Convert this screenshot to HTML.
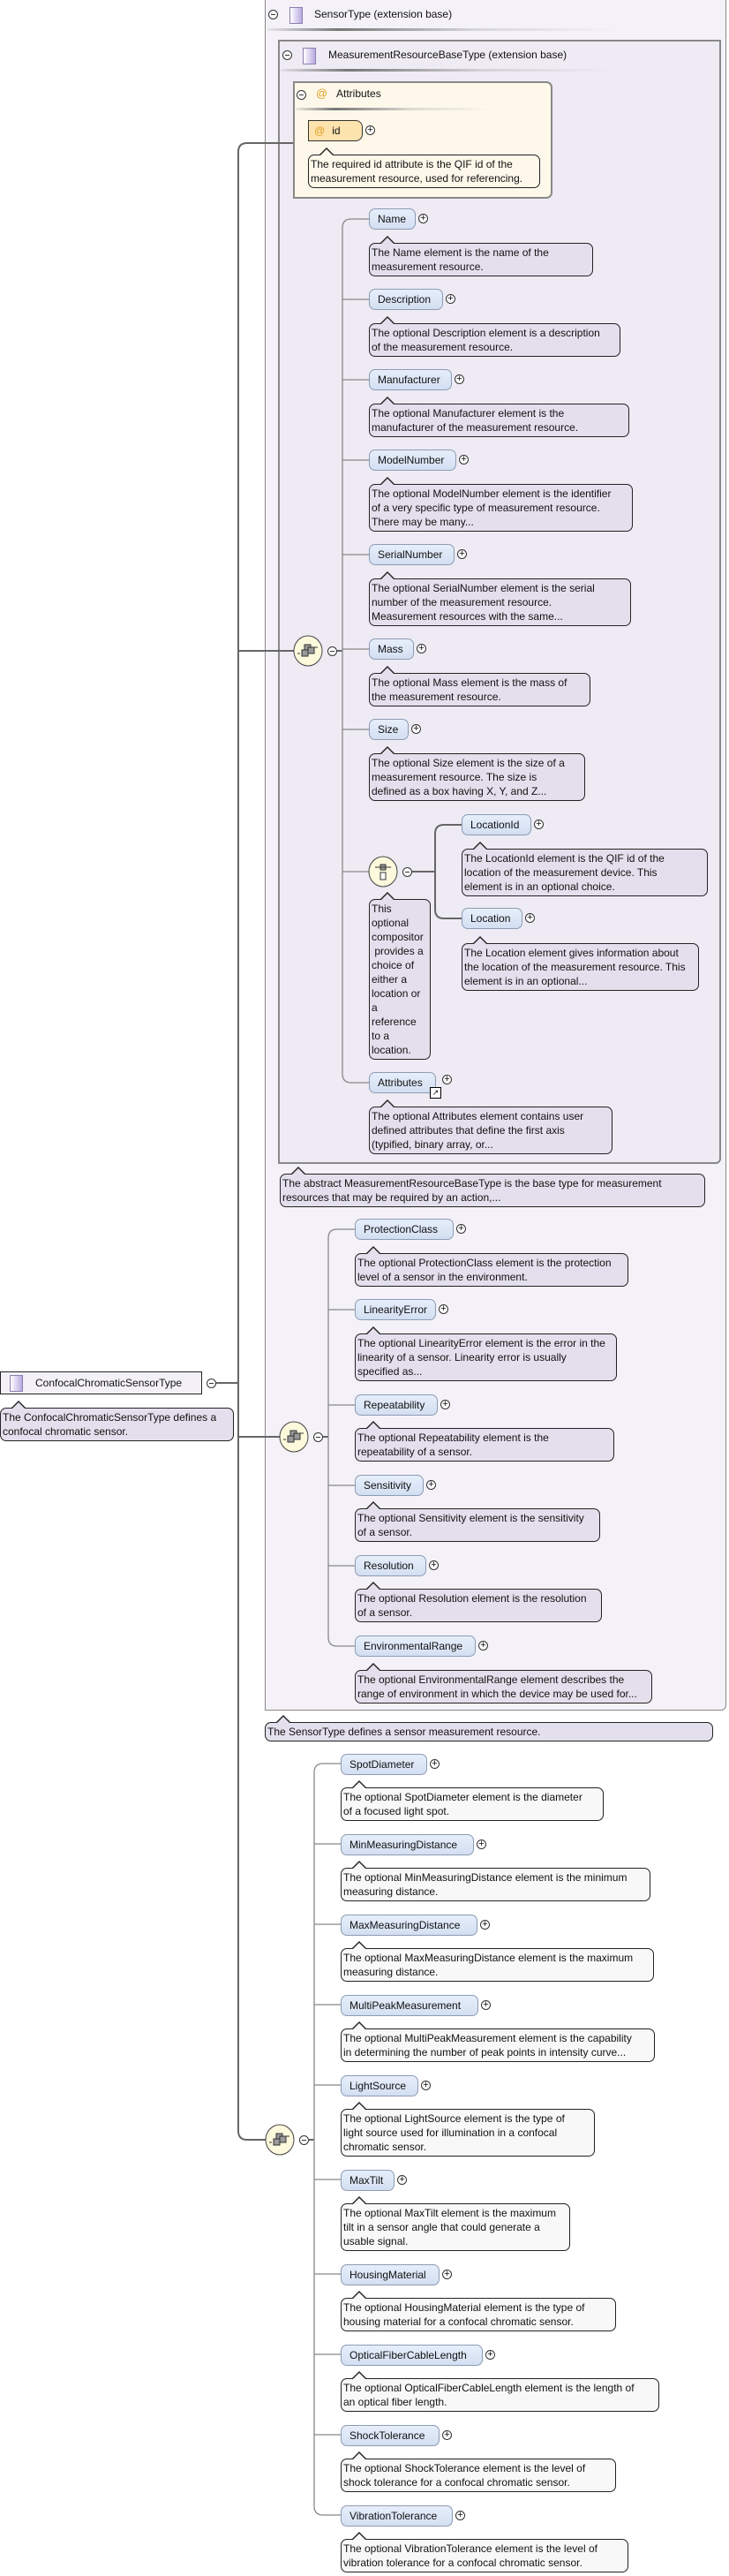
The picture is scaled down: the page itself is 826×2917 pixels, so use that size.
<!DOCTYPE html>
<html><head><meta charset="utf-8"><style>
body{margin:0;width:826px;height:2917px;position:relative;background:#fff;overflow:hidden;font-family:"Liberation Sans",Arial,sans-serif;color:#111}
.abs{position:absolute}
.e{position:absolute;box-sizing:border-box;height:24px;border:1px solid #8d9cb4;border-radius:7px;background:linear-gradient(#e6eefa,#d3dff2);font-size:12px;line-height:22px;padding-left:9px;white-space:nowrap}
.e .p,.pl{position:absolute;left:100%;margin-left:4px;top:5px;width:11px;height:11px;box-sizing:border-box;border:1px solid #333;border-radius:50%;font-size:11px;line-height:9px;text-align:center;background:#fff}
.d{position:absolute;box-sizing:border-box;border:1px solid #222;border-radius:7px;background:var(--bg);padding:2px 2px;font-size:12px;line-height:16px;white-space:nowrap;--bg:#e4dfed}
.d::before{content:"";position:absolute;left:12px;top:-9px;border-left:8px solid transparent;border-right:8px solid transparent;border-bottom:8px solid #222}
.d::after{content:"";position:absolute;left:13px;top:-7px;border-left:7px solid transparent;border-right:7px solid transparent;border-bottom:7px solid var(--bg)}
.w{--bg:#f8f8f8}
.y{--bg:#fdf8ea}
.mi{position:absolute;width:11px;height:11px;box-sizing:border-box;border:1px solid #333;border-radius:50%;background:#fff}
.mi::after{content:"";position:absolute;left:2px;top:4px;width:5px;height:1px;background:#333}
.ic{position:absolute;width:13px;height:17px;border:1px solid #8a7fb0;background:linear-gradient(90deg,#fff,#b8a9e0)}
.hl{position:absolute;height:3px;background:linear-gradient(90deg,rgba(120,120,120,.1),#777 20%,rgba(150,150,150,.3) 60%,rgba(200,200,200,0))}
</style></head><body>

<!-- SensorType box -->
<div class="abs" style="left:300px;top:-2px;width:523px;height:1939px;box-sizing:border-box;border:1px solid #888;border-radius:0 0 6px 0;background:#f4f2f8"></div>
<div class="mi" style="left:304px;top:11px"></div>
<div class="ic" style="left:328px;top:8px"></div>
<div class="abs" style="left:356px;top:9px;font-size:12px">SensorType (extension base)</div>
<div class="hl" style="left:303px;top:32px;width:395px"></div>

<!-- MRBT box -->
<div class="abs" style="left:315px;top:45px;width:502px;height:1273px;box-sizing:border-box;border:2px solid #888;border-radius:0 0 6px 0;background:#eeebf4"></div>
<div class="mi" style="left:320px;top:57px"></div>
<div class="ic" style="left:343px;top:54px"></div>
<div class="abs" style="left:372px;top:55px;font-size:12px">MeasurementResourceBaseType (extension base)</div>
<div class="hl" style="left:318px;top:78px;width:380px"></div>

<!-- Attributes box -->
<div class="abs" style="left:332px;top:92px;width:294px;height:133px;box-sizing:border-box;border:2px solid #888;border-radius:0 7px 7px 0;background:#fdf8ea"></div>
<div class="mi" style="left:336px;top:102px"></div>
<div class="abs" style="left:358px;top:98px;font-size:13px;color:#e0a020">@</div>
<div class="abs" style="left:381px;top:99px;font-size:12px">Attributes</div>
<div class="hl" style="left:335px;top:122px;width:220px"></div>
<div class="abs" style="left:349px;top:136px;width:62px;height:24px;box-sizing:border-box;border:1px solid #333;border-radius:0 8px 8px 0;background:#fde3ad;font-size:12px;line-height:22px"><span style="color:#e0a020;margin-left:6px">@</span><span style="margin-left:8px">id</span><span class="pl">+</span></div>
<div class="d y" style="left:349px;top:175px;width:263px;height:38px">The required id attribute is the QIF id of the<br>measurement resource, used for referencing.</div>

<!-- connectors -->
<svg class="abs" style="left:0;top:0" width="826" height="2917">
<g fill="none" stroke="#666" stroke-width="2">
<path d="M332 162 H280 Q270 162 270 172 V2413 Q270 2423 280 2423 H301"/>
<path d="M244 1566 H270"/>
<path d="M270 737 H333"/>
<path d="M270 1627 H317"/>
<path d="M382 737 H388"/>
<path d="M467 987 H493"/>
<path d="M366 1627 H372"/>
<path d="M350 2423 H356"/>
</g>
<g fill="none" stroke="#888" stroke-width="1.3">
<path d="M418 248 H398 Q388 248 388 258 V1216 Q388 1226 398 1226 H418"/>
<path d="M388 339 H418 M388 430 H418 M388 521 H418 M388 628 H418 M388 735 H418 M388 826 H418 M388 987 H418"/>
<path d="M523 934 H503 Q493 934 493 944 V1030 Q493 1040 503 1040 H523" stroke="#666" stroke-width="2"/>
<path d="M402 1392 H382 Q372 1392 372 1402 V1854 Q372 1864 382 1864 H402"/>
<path d="M372 1483 H402 M372 1591 H402 M372 1682 H402 M372 1773 H402"/>
<path d="M386 1997 H366 Q356 1997 356 2007 V2838 Q356 2848 366 2848 H386"/>
<path d="M356 2088 H386 M356 2179 H386 M356 2270 H386 M356 2361 H386 M356 2468 H386 M356 2575 H386 M356 2666 H386 M356 2757 H386"/>
</g>
<g stroke="#444" stroke-width="1" fill="#fcf9dc">
<ellipse cx="349" cy="737" rx="16" ry="17"/>
<ellipse cx="333" cy="1627" rx="16" ry="17"/>
<ellipse cx="317" cy="2423" rx="16" ry="17"/>
<ellipse cx="434" cy="987" rx="16" ry="17"/>
</g>
<g fill="#999" stroke="#333" stroke-width="1">
<rect x="345" y="730" width="7" height="7"/><rect x="349" y="733" width="7" height="7"/><rect x="342" y="736" width="7" height="7"/>
<rect x="329" y="1620" width="7" height="7"/><rect x="333" y="1623" width="7" height="7"/><rect x="326" y="1626" width="7" height="7"/>
<rect x="313" y="2416" width="7" height="7"/><rect x="317" y="2419" width="7" height="7"/><rect x="310" y="2422" width="7" height="7"/>
<rect x="431" y="979" width="6" height="6"/><rect x="431" y="988" width="6" height="8" fill="#fff"/>
</g>
<g stroke="#333" stroke-width="1"><path d="M425 982 H443 M337 740 H340 M356 733 H360 M321 1630 H324 M340 1623 H344 M305 2426 H308 M324 2419 H328"/></g>
</svg>
<div class="mi" style="left:371px;top:732px"></div>
<div class="mi" style="left:456px;top:982px"></div>
<div class="mi" style="left:355px;top:1622px"></div>
<div class="mi" style="left:339px;top:2418px"></div>
<div class="mi" style="left:234px;top:1561px"></div>

<!-- Seq1 -->
<div class="e" style="left:418px;top:236px;width:53px">Name<span class="p">+</span></div>
<div class="d" style="left:418px;top:275px;width:254px;height:38px">The Name element is the name of the<br>measurement resource.</div>
<div class="e" style="left:418px;top:327px;width:84px">Description<span class="p">+</span></div>
<div class="d" style="left:418px;top:366px;width:285px;height:38px">The optional Description element is a description<br>of the measurement resource.</div>
<div class="e" style="left:418px;top:418px;width:94px">Manufacturer<span class="p">+</span></div>
<div class="d" style="left:418px;top:457px;width:295px;height:38px">The optional Manufacturer element is the<br>manufacturer of the measurement resource.</div>
<div class="e" style="left:418px;top:509px;width:99px">ModelNumber<span class="p">+</span></div>
<div class="d" style="left:418px;top:548px;width:299px;height:54px">The optional ModelNumber element is the identifier<br>of a very specific type of measurement resource.<br>There may be many...</div>
<div class="e" style="left:418px;top:616px;width:97px">SerialNumber<span class="p">+</span></div>
<div class="d" style="left:418px;top:655px;width:297px;height:54px">The optional SerialNumber element is the serial<br>number of the measurement resource.<br>Measurement resources with the same...</div>
<div class="e" style="left:418px;top:723px;width:51px">Mass<span class="p">+</span></div>
<div class="d" style="left:418px;top:762px;width:251px;height:38px">The optional Mass element is the mass of<br>the measurement resource.</div>
<div class="e" style="left:418px;top:814px;width:45px">Size<span class="p">+</span></div>
<div class="d" style="left:418px;top:853px;width:245px;height:54px">The optional Size element is the size of a<br>measurement resource. The size is<br>defined as a box having X, Y, and Z...</div>
<div class="d" style="left:418px;top:1018px;width:70px;height:182px">This<br>optional<br>compositor<br>&nbsp;provides a<br>choice of<br>either a<br>location or<br>a<br>reference<br>to a<br>location.</div>
<div class="e" style="left:523px;top:922px;width:79px">LocationId<span class="p">+</span></div>
<div class="d" style="left:523px;top:961px;width:279px;height:54px">The LocationId element is the QIF id of the<br>location of the measurement device. This<br>element is in an optional choice.</div>
<div class="e" style="left:523px;top:1028px;width:69px">Location<span class="p">+</span></div>
<div class="d" style="left:523px;top:1068px;width:269px;height:54px">The Location element gives information about<br>the location of the measurement resource. This<br>element is in an optional...</div>
<div class="e" style="left:418px;top:1214px;width:76px">Attributes<span class="p" style="margin-left:8px;top:2px">+</span><span class="abs" style="left:68px;top:16px;width:11px;height:11px;border:1px solid #000;background:#fff;font-size:9px;line-height:10px;text-align:center">&#8599;</span></div>
<div class="d" style="left:418px;top:1253px;width:276px;height:54px">The optional Attributes element contains user<br>defined attributes that define the first axis<br>(typified, binary array, or...</div>
<div class="d" style="left:317px;top:1329px;width:482px;height:38px">The abstract MeasurementResourceBaseType is the base type for measurement<br>resources that may be required by an action,...</div>

<!-- Seq2 -->
<div class="e" style="left:402px;top:1380px;width:112px">ProtectionClass<span class="p">+</span></div>
<div class="d" style="left:402px;top:1419px;width:310px;height:38px">The optional ProtectionClass element is the protection<br>level of a sensor in the environment.</div>
<div class="e" style="left:402px;top:1471px;width:92px">LinearityError<span class="p">+</span></div>
<div class="d" style="left:402px;top:1510px;width:297px;height:54px">The optional LinearityError element is the error in the<br>linearity of a sensor. Linearity error is usually<br>specified as...</div>
<div class="e" style="left:402px;top:1579px;width:94px">Repeatability<span class="p">+</span></div>
<div class="d" style="left:402px;top:1617px;width:294px;height:38px">The optional Repeatability element is the<br>repeatability of a sensor.</div>
<div class="e" style="left:402px;top:1670px;width:78px">Sensitivity<span class="p">+</span></div>
<div class="d" style="left:402px;top:1708px;width:278px;height:38px">The optional Sensitivity element is the sensitivity<br>of a sensor.</div>
<div class="e" style="left:402px;top:1761px;width:81px">Resolution<span class="p">+</span></div>
<div class="d" style="left:402px;top:1799px;width:280px;height:38px">The optional Resolution element is the resolution<br>of a sensor.</div>
<div class="e" style="left:402px;top:1852px;width:137px">EnvironmentalRange<span class="p">+</span></div>
<div class="d" style="left:402px;top:1891px;width:337px;height:38px">The optional EnvironmentalRange element describes the<br>range of environment in which the device may be used for...</div>
<div class="d" style="left:300px;top:1950px;width:508px;height:22px">The SensorType defines a sensor measurement resource.</div>

<!-- Confocal -->
<div class="abs" style="left:0;top:1553px;width:229px;height:26px;box-sizing:border-box;border:1px solid #222;background:#f3f1f7"></div>
<div class="ic" style="left:11px;top:1557px"></div>
<div class="abs" style="left:40px;top:1559px;font-size:12px">ConfocalChromaticSensorType</div>
<div class="d" style="left:0;top:1594px;width:265px;height:38px">The ConfocalChromaticSensorType defines a<br>confocal chromatic sensor.</div>

<!-- Seq3 -->
<div class="e" style="left:386px;top:1986px;width:98px">SpotDiameter<span class="p">+</span></div>
<div class="d w" style="left:386px;top:2024px;width:298px;height:38px">The optional SpotDiameter element is the diameter<br>of a focused light spot.</div>
<div class="e" style="left:386px;top:2077px;width:151px">MinMeasuringDistance<span class="p">+</span></div>
<div class="d w" style="left:386px;top:2115px;width:351px;height:38px">The optional MinMeasuringDistance element is the minimum<br>measuring distance.</div>
<div class="e" style="left:386px;top:2168px;width:155px">MaxMeasuringDistance<span class="p">+</span></div>
<div class="d w" style="left:386px;top:2206px;width:355px;height:38px">The optional MaxMeasuringDistance element is the maximum<br>measuring distance.</div>
<div class="e" style="left:386px;top:2259px;width:156px">MultiPeakMeasurement<span class="p">+</span></div>
<div class="d w" style="left:386px;top:2297px;width:356px;height:38px">The optional MultiPeakMeasurement element is the capability<br>in determining the number of peak points in intensity curve...</div>
<div class="e" style="left:386px;top:2350px;width:88px">LightSource<span class="p">+</span></div>
<div class="d w" style="left:386px;top:2388px;width:288px;height:54px">The optional LightSource element is the type of<br>light source used for illumination in a confocal<br>chromatic sensor.</div>
<div class="e" style="left:386px;top:2457px;width:61px">MaxTilt<span class="p">+</span></div>
<div class="d w" style="left:386px;top:2495px;width:260px;height:54px">The optional MaxTilt element is the maximum<br>tilt in a sensor angle that could generate a<br>usable signal.</div>
<div class="e" style="left:386px;top:2564px;width:112px">HousingMaterial<span class="p">+</span></div>
<div class="d w" style="left:386px;top:2602px;width:312px;height:38px">The optional HousingMaterial element is the type of<br>housing material for a confocal chromatic sensor.</div>
<div class="e" style="left:386px;top:2655px;width:161px">OpticalFiberCableLength<span class="p">+</span></div>
<div class="d w" style="left:386px;top:2693px;width:361px;height:38px">The optional OpticalFiberCableLength element is the length of<br>an optical fiber length.</div>
<div class="e" style="left:386px;top:2746px;width:112px">ShockTolerance<span class="p">+</span></div>
<div class="d w" style="left:386px;top:2784px;width:312px;height:38px">The optional ShockTolerance element is the level of<br>shock tolerance for a confocal chromatic sensor.</div>
<div class="e" style="left:386px;top:2837px;width:127px">VibrationTolerance<span class="p">+</span></div>
<div class="d w" style="left:386px;top:2875px;width:326px;height:38px">The optional VibrationTolerance element is the level of<br>vibration tolerance for a confocal chromatic sensor.</div>

</body></html>
